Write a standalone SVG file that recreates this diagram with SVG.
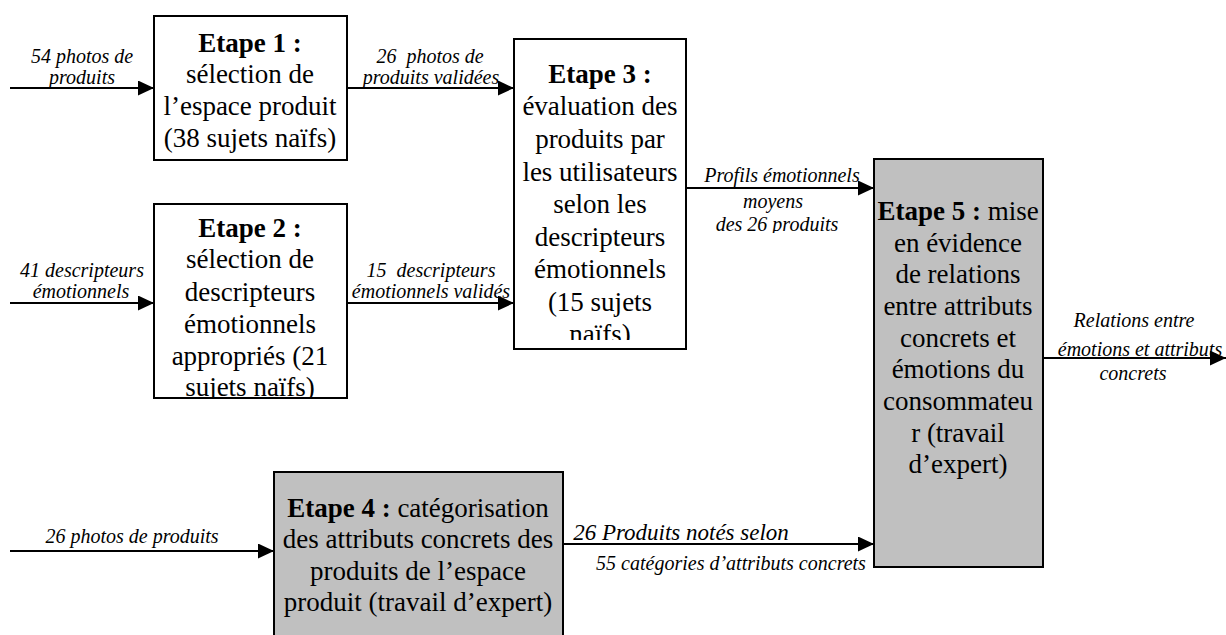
<svg xmlns="http://www.w3.org/2000/svg" width="1226" height="635" viewBox="0 0 1226 635">
  <style>
    .box { fill: #ffffff; stroke: #000000; stroke-width: 2; }
    .grey { fill: #c0c0c0; }
    .step { font-family: "Liberation Serif", "Times New Roman", serif; font-size: 27px; fill: #000000; text-anchor: middle; }
    .step .b { font-weight: bold; }
    .lbl { font-family: "Liberation Serif", "Times New Roman", serif; font-size: 20px; font-style: italic; fill: #000000; text-anchor: middle; }
    .big { font-size: 23px; }
    .wire { stroke: #000000; stroke-width: 2; fill: none; marker-end: url(#head); }
  </style>
  <defs>
    <marker id="head" viewBox="0 0 16 15" refX="16" refY="7.5" markerWidth="16" markerHeight="15" markerUnits="userSpaceOnUse" orient="auto">
      <path d="M0,0 L16,7.5 L0,15 Z" fill="#000000"/>
    </marker>
    <clipPath id="clip2"><rect x="154" y="204" width="193" height="194"/></clipPath>
    <clipPath id="clip3"><rect x="514" y="39" width="172" height="301"/></clipPath>
    <clipPath id="clipProfils"><rect x="690" y="150" width="180" height="83"/></clipPath>
    <clipPath id="clipNotes"><rect x="560" y="510" width="250" height="33"/></clipPath>
  </defs>

  <rect width="1226" height="635" fill="#ffffff"/>

  <!-- connectors and their labels -->
  <g id="connectors">
    <line class="wire" x1="10" y1="88" x2="154" y2="88"/>
    <line class="wire" x1="347" y1="88" x2="514" y2="88"/>
    <line class="wire" x1="10" y1="303" x2="154" y2="303"/>
    <line class="wire" x1="347" y1="303" x2="514" y2="303"/>
    <line class="wire" x1="686" y1="188" x2="874" y2="188"/>
    <line class="wire" x1="1043" y1="358" x2="1226" y2="358"/>
    <line class="wire" x1="10" y1="551" x2="274" y2="551"/>
    <line class="wire" x1="563" y1="544" x2="874" y2="544"/>

    <text class="lbl"><tspan x="82" y="63">54 photos de</tspan><tspan x="82" y="84">produits</tspan></text>
    <text class="lbl" xml:space="preserve"><tspan x="430" y="63">26  photos de</tspan><tspan x="431" y="84">produits validées</tspan></text>
    <text class="lbl"><tspan x="82" y="277">41 descripteurs</tspan><tspan x="81" y="298">émotionnels</tspan></text>
    <text class="lbl" xml:space="preserve"><tspan x="431" y="277">15  descripteurs</tspan><tspan x="431" y="298">émotionnels validés</tspan></text>
    <g clip-path="url(#clipProfils)">
      <text class="lbl"><tspan x="782" y="182">Profils émotionnels</tspan><tspan x="773" y="208">moyens</tspan><tspan x="777" y="231">des 26 produits</tspan></text>
    </g>
    <text class="lbl"><tspan x="1134" y="327">Relations entre</tspan><tspan x="1140" y="356">émotions et attributs</tspan><tspan x="1133" y="380">concrets</tspan></text>
    <text class="lbl" x="132" y="543">26 photos de produits</text>
    <g clip-path="url(#clipNotes)">
      <text class="lbl big" x="681" y="540">26 Produits notés selon</text>
    </g>
    <text class="lbl" x="731" y="570">55 catégories d’attributs concrets</text>
  </g>

  <!-- step 1 -->
  <g id="etape1">
    <rect class="box" x="154" y="16" width="193" height="144"/>
    <text class="step"><tspan class="b" x="250" y="52">Etape 1 :</tspan><tspan x="250" y="83">sélection de</tspan><tspan x="250" y="115">l’espace produit</tspan><tspan x="250" y="147">(38 sujets naïfs)</tspan></text>
  </g>

  <!-- step 2 -->
  <g id="etape2">
    <rect class="box" x="154" y="204" width="193" height="194"/>
    <g clip-path="url(#clip2)">
      <text class="step"><tspan class="b" x="250" y="237">Etape 2 :</tspan><tspan x="250" y="268">sélection de</tspan><tspan x="250" y="301">descripteurs</tspan><tspan x="250" y="333">émotionnels</tspan><tspan x="250" y="365">appropriés (21</tspan><tspan x="250" y="396">sujets naïfs)</tspan></text>
    </g>
  </g>

  <!-- step 3 -->
  <g id="etape3">
    <rect class="box" x="514" y="39" width="172" height="310"/>
    <g clip-path="url(#clip3)">
      <text class="step"><tspan class="b" x="600" y="83">Etape 3 :</tspan><tspan x="600" y="115">évaluation des</tspan><tspan x="600" y="148">produits par</tspan><tspan x="600" y="181">les utilisateurs</tspan><tspan x="600" y="213">selon les</tspan><tspan x="600" y="246">descripteurs</tspan><tspan x="600" y="278">émotionnels</tspan><tspan x="600" y="311">(15 sujets</tspan><tspan x="600" y="343">naïfs)</tspan></text>
    </g>
  </g>

  <!-- step 4 -->
  <g id="etape4">
    <rect class="box grey" x="274" y="472" width="289" height="175"/>
    <text class="step"><tspan x="418" y="517"><tspan class="b">Etape 4 :</tspan> catégorisation</tspan><tspan x="418" y="548">des attributs concrets des</tspan><tspan x="418" y="580">produits de l’espace</tspan><tspan x="418" y="611">produit (travail d’expert)</tspan></text>
  </g>

  <!-- step 5 -->
  <g id="etape5">
    <rect class="box grey" x="874" y="159" width="169" height="408"/>
    <text class="step"><tspan x="958" y="220"><tspan class="b">Etape 5 :</tspan> mise</tspan><tspan x="958" y="252">en évidence</tspan><tspan x="958" y="283">de relations</tspan><tspan x="958" y="315">entre attributs</tspan><tspan x="958" y="347">concrets et</tspan><tspan x="958" y="378">émotions du</tspan><tspan x="958" y="410">consommateu</tspan><tspan x="958" y="442">r (travail</tspan><tspan x="958" y="473">d’expert)</tspan></text>
  </g>
</svg>
